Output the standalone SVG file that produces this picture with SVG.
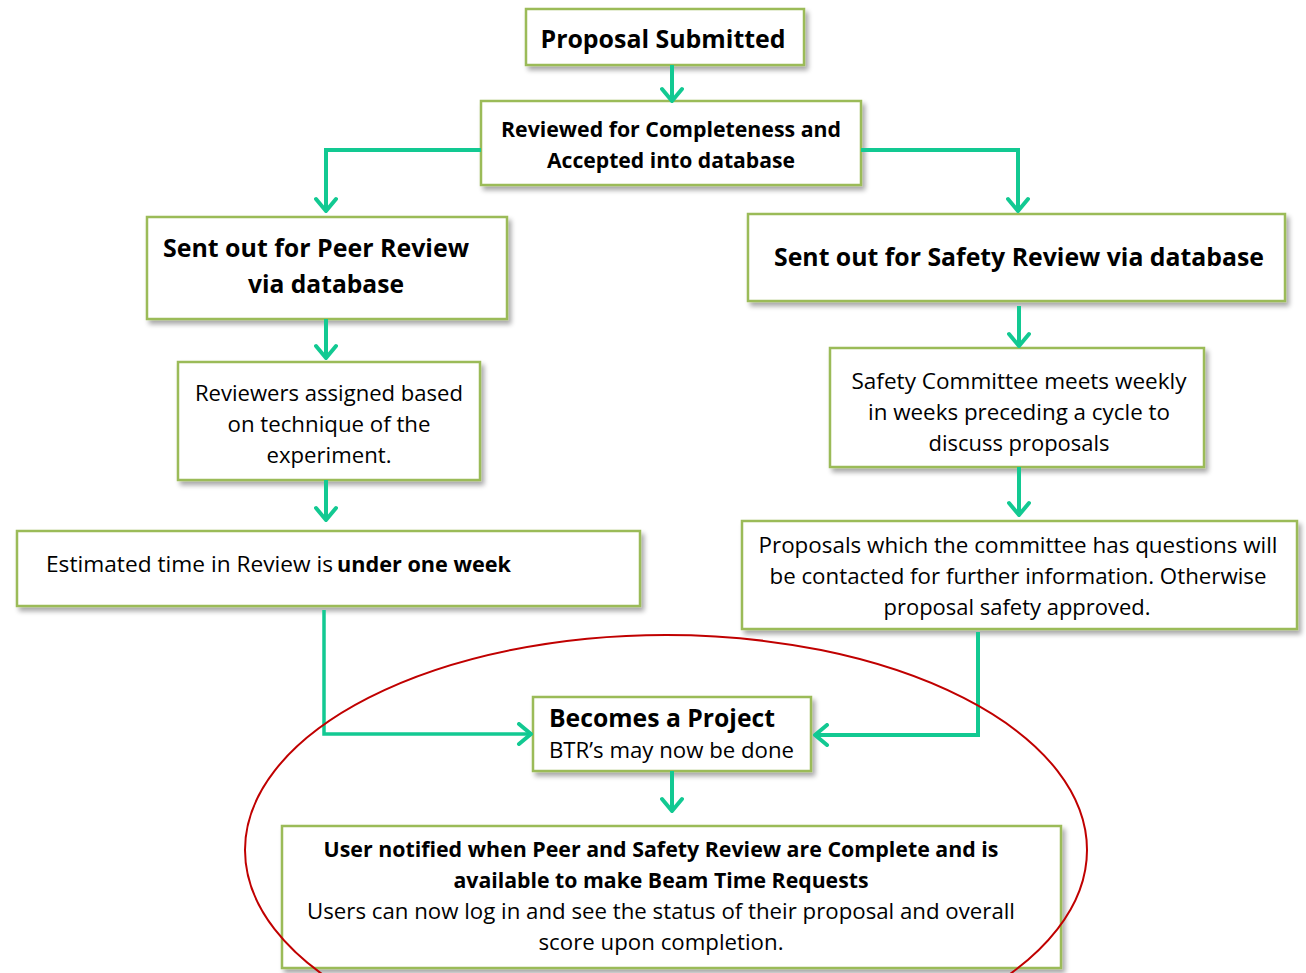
<svg xmlns="http://www.w3.org/2000/svg" width="1306" height="973" viewBox="0 0 1306 973">
<style>
.box{fill:#fff;stroke:#9bbb59;stroke-width:2.5;filter:url(#sh)}
.t{font-family:"Open Sans","Noto Sans","Liberation Sans",sans-serif;fill:#000}
.b{font-weight:bold}
.c{text-anchor:middle}
.s21{font-size:21px}
.s20{font-size:20px}
.s25{font-size:25px}
.con{fill:none;stroke:#12c992;stroke-width:4;stroke-linejoin:miter}
</style>
<defs>
<filter id="sh" x="-5%" y="-10%" width="115%" height="130%">
<feGaussianBlur in="SourceAlpha" stdDeviation="2.5"/>
<feOffset dx="3" dy="4" result="o"/>
<feComponentTransfer><feFuncA type="linear" slope="0.35"/></feComponentTransfer>
<feMerge><feMergeNode/><feMergeNode in="SourceGraphic"/></feMerge>
</filter>
<marker id="ah" markerUnits="userSpaceOnUse" viewBox="0 0 24 24" refX="20" refY="12" markerWidth="24" markerHeight="24" orient="auto">
<path d="M8,2 L20,12 L8,22" fill="none" stroke="#12c992" stroke-width="4" stroke-linecap="round" stroke-linejoin="round"/>
</marker>
</defs>
<rect width="1306" height="973" fill="#fff"/>

<g id="n1"><rect class="box" x="526" y="9" width="278" height="56"/>
<text class="t b s25 c" x="663" y="48" textLength="245" lengthAdjust="spacingAndGlyphs">Proposal Submitted</text></g>

<g id="n2"><rect class="box" x="481" y="101" width="380" height="84"/>
<text class="t b s21 c" x="671" y="137" textLength="340" lengthAdjust="spacingAndGlyphs">Reviewed for Completeness and</text>
<text class="t b s21 c" x="671" y="168" textLength="248" lengthAdjust="spacingAndGlyphs">Accepted into database</text></g>

<g id="n3"><rect class="box" x="147" y="217" width="360" height="102"/>
<text class="t b s25" x="163" y="257" textLength="306" lengthAdjust="spacingAndGlyphs">Sent out for Peer Review</text>
<text class="t b s25 c" x="326" y="293" textLength="156" lengthAdjust="spacingAndGlyphs">via database</text></g>

<g id="n4"><rect class="box" x="748" y="214" width="537" height="87"/>
<text class="t b s25 c" x="1019" y="266" textLength="490" lengthAdjust="spacingAndGlyphs">Sent out for Safety Review via database</text></g>

<g id="n5"><rect class="box" x="178" y="362" width="302" height="118"/>
<text class="t s21 c" x="329" y="401" textLength="268" lengthAdjust="spacingAndGlyphs">Reviewers assigned based</text>
<text class="t s21 c" x="329" y="432" textLength="203" lengthAdjust="spacingAndGlyphs">on technique of the</text>
<text class="t s21 c" x="329" y="463" textLength="125" lengthAdjust="spacingAndGlyphs">experiment.</text></g>

<g id="n6"><rect class="box" x="830" y="348" width="374" height="119"/>
<text class="t s21 c" x="1019" y="389" textLength="335" lengthAdjust="spacingAndGlyphs">Safety Committee meets weekly</text>
<text class="t s21 c" x="1019" y="420" textLength="302" lengthAdjust="spacingAndGlyphs">in weeks preceding a cycle to</text>
<text class="t s21 c" x="1019" y="451" textLength="181" lengthAdjust="spacingAndGlyphs">discuss proposals</text></g>

<g id="n7"><rect class="box" x="17" y="531" width="623" height="75"/>
<text class="t s21" x="46" y="572" textLength="287" lengthAdjust="spacingAndGlyphs">Estimated time in Review is</text>
<text class="t b s21" x="337" y="572" textLength="174" lengthAdjust="spacingAndGlyphs">under one week</text></g>

<g id="n8"><rect class="box" x="742" y="521" width="555" height="108"/>
<text class="t s21 c" x="1018" y="553" textLength="519" lengthAdjust="spacingAndGlyphs">Proposals which the committee has questions will</text>
<text class="t s21 c" x="1018" y="584" textLength="497" lengthAdjust="spacingAndGlyphs">be contacted for further information. Otherwise</text>
<text class="t s21 c" x="1017" y="615" textLength="267" lengthAdjust="spacingAndGlyphs">proposal safety approved.</text></g>

<g id="n9"><rect class="box" x="533" y="697" width="278" height="74"/>
<text class="t b s25" x="549" y="727" textLength="226" lengthAdjust="spacingAndGlyphs">Becomes a Project</text>
<text class="t s21" x="549" y="758" textLength="245" lengthAdjust="spacingAndGlyphs">BTR’s may now be done</text></g>

<g id="n10"><rect class="box" x="282" y="826" width="779" height="142"/>
<text class="t b s21 c" x="661" y="857" textLength="675" lengthAdjust="spacingAndGlyphs">User notified when Peer and Safety Review are Complete and is</text>
<text class="t b s21 c" x="661" y="888" textLength="415" lengthAdjust="spacingAndGlyphs">available to make Beam Time Requests</text>
<text class="t s21 c" x="661" y="919" textLength="708" lengthAdjust="spacingAndGlyphs">Users can now log in and see the status of their proposal and overall</text>
<text class="t s21 c" x="661" y="950" textLength="245" lengthAdjust="spacingAndGlyphs">score upon completion.</text></g>

<g id="connectors">
<path class="con" d="M672,65 V101" marker-end="url(#ah)"/>
<path class="con" d="M481,150 H326 V211" marker-end="url(#ah)"/>
<path class="con" d="M861,150 H1018 V211" marker-end="url(#ah)"/>
<path class="con" d="M326,319 V358" marker-end="url(#ah)"/>
<path class="con" d="M326,480 V520" marker-end="url(#ah)"/>
<path class="con" d="M1019,306 V346" marker-end="url(#ah)"/>
<path class="con" d="M1019,467 V515" marker-end="url(#ah)"/>
<path class="con" d="M324,610 V734 H531" marker-end="url(#ah)" style="stroke-width:3.5"/>
<path class="con" d="M978,632 V735 H815" marker-end="url(#ah)"/>
<path class="con" d="M672,771 V811" marker-end="url(#ah)"/>
</g>

<ellipse id="highlight" cx="666" cy="850" rx="421" ry="215" fill="none" stroke="#c00000" stroke-width="2"/>
</svg>
